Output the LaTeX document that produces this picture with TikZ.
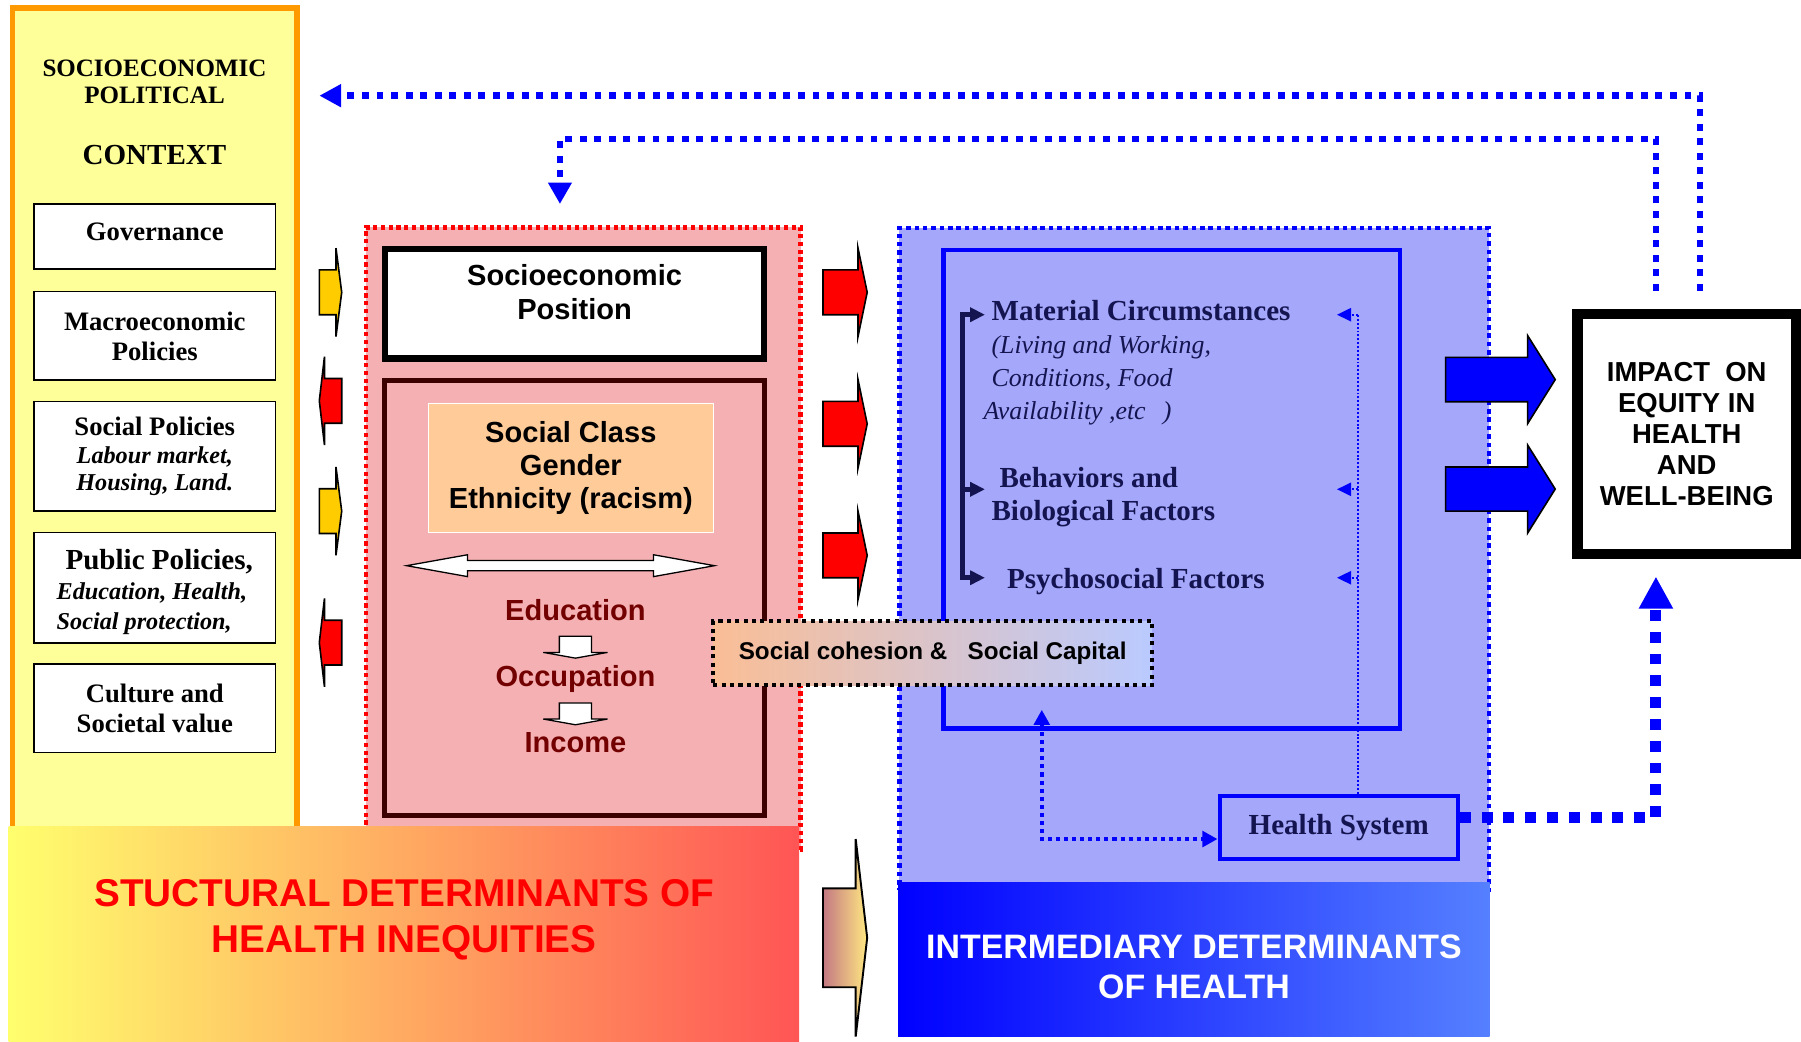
\documentclass[tikz,border=0pt]{standalone}
\usepackage{fontspec}
\setmainfont{Liberation Serif}
\setsansfont{Liberation Sans}
\usetikzlibrary{arrows.meta,fit}

\definecolor{ctxfill}{RGB}{255,255,153}
\definecolor{ctxline}{RGB}{255,153,0}
\definecolor{ctxarrow}{RGB}{255,204,0}
\definecolor{sdhfill}{RGB}{244,176,178}
\definecolor{idhfill}{RGB}{164,167,250}
\definecolor{classfill}{RGB}{255,204,153}
\definecolor{idhink}{RGB}{20,20,80}
\definecolor{eduink}{RGB}{115,0,0}
\definecolor{stratline}{RGB}{60,0,0}

% block arrow: tail x, head base x, tip x, centre y, half body, half head
\newcommand\blockarrow[6]{(#1,#4-#5) -- (#2,#4-#5) -- (#2,#4-#6) -- (#3,#4)
  -- (#2,#4+#6) -- (#2,#4+#5) -- (#1,#4+#5) -- cycle}
% small hollow arrow pointing down: centre x, top y
\newcommand\smalldown[2]{(#1-14,#2) -- (#1+14,#2) -- (#1+14,#2+14) -- (#1+28,#2+14)
  -- (#1,#2+19) -- (#1-28,#2+14) -- (#1-14,#2+14) -- cycle}
\newcommand\polsub[1]{{\fontsize{15}{17}\selectfont\itshape #1}}
% move a text block up (or down) without changing the size of its box
\newcommand\lifted[2]{\raisebox{#1}[\height][\depth]{\begin{tabular}{@{}c@{}}#2\end{tabular}}}

\tikzset{
  boxsize/.style 2 args={minimum width=#1*0.25mm,minimum height=#2*0.25mm},
  ctxbox/.style={draw=ctxline,fill=ctxfill,line width=3.5pt,inner sep=0pt},
  ctxtitle/.style={anchor=base,inner sep=0pt,font=\bfseries\fontsize{15.5}{17}\selectfont},
  polbox/.style={draw,fill=white,line width=0.9pt,inner sep=0pt,align=center,
    font=\bfseries\fontsize{16.5}{18.5}\selectfont},
  sdhzone/.style={draw=red,fill=sdhfill,line width=2.8pt,dash pattern=on 2.6pt off 2.2pt,inner sep=0pt},
  idhzone/.style={draw=blue,fill=idhfill,line width=2.8pt,dash pattern=on 2.8pt off 2.4pt,inner sep=0pt},
  sepbox/.style={draw,fill=white,line width=4pt,inner sep=0pt,align=center,
    font=\sffamily\bfseries\fontsize{18}{21.3}\selectfont},
  stratbox/.style={draw=stratline,line width=3pt,inner sep=0pt},
  classbox/.style={draw=white,fill=classfill,line width=0.6pt,inner sep=0pt,align=center,
    font=\sffamily\bfseries\fontsize{18}{20.6}\selectfont},
  edu/.style={anchor=base,inner sep=0pt,text=eduink,font=\sffamily\bfseries\fontsize{18}{20}\selectfont},
  hollow/.style={draw,fill=white,line width=0.8pt},
  ctxarr/.style={draw,fill=ctxarrow,line width=1pt},
  redarr/.style={draw,fill=red,line width=1pt},
  bluearr/.style={draw,fill=blue,line width=1pt},
  gradarr/.style={draw,line width=1.2pt,left color={rgb,255:red,195;green,120;blue,130},
    middle color={rgb,255:red,255;green,150;blue,130},right color={rgb,255:red,255;green,232;blue,130}},
  idhframe/.style={draw=blue,line width=3pt,inner sep=0pt},
  idhlabel/.style={anchor=base west,inner sep=0pt,text=idhink,font=\bfseries\fontsize{18}{20.5}\selectfont},
  idhsub/.style={anchor=base west,inner sep=0pt,text=idhink,font=\itshape\fontsize{16}{20.5}\selectfont},
  brk/.style={draw=idhink,line width=3pt},
  hsbox/.style={draw=blue,line width=2.5pt,inner sep=0pt,text=idhink,font=\bfseries\fontsize{18}{20}\selectfont},
  hsdot/.style={draw=blue,line width=1.2pt,dash pattern=on 1.2pt off 1.2pt},
  cohbox/.style={draw=black,line width=2.5pt,dash pattern=on 2.5pt off 2.7pt,inner sep=0pt,
    left color={rgb,255:red,250;green,190;blue,150},right color={rgb,255:red,186;green,202;blue,255},
    font=\sffamily\bfseries\fontsize{15}{17}\selectfont},
  cohlink/.style={draw=blue,line width=2.5pt,dash pattern=on 2.5pt off 2.5pt},
  impbox/.style={draw,fill=white,line width=6.2pt,inner sep=0pt,align=center,
    font=\sffamily\bfseries\fontsize{17}{19.2}\selectfont},
  fback/.style={draw=blue,line width=4.2pt,dash pattern=on 4.3pt off 4.7pt},
  hsfeed/.style={draw=blue,line width=6.8pt,dash pattern=on 6.8pt off 6.7pt},
  sdhbanner/.style={inner sep=0pt,left color={rgb,255:red,255;green,255;blue,110},
    middle color={rgb,255:red,252;green,200;blue,110},right color={rgb,255:red,255;green,85;blue,85}},
  sdhtitle/.style={align=center,text=red,font=\sffamily\bfseries\fontsize{24}{28.3}\selectfont},
  idhbanner/.style={inner sep=0pt,left color=blue,right color={rgb,255:red,85;green,128;blue,255}},
  idhtitle/.style={align=center,text=white,font=\sffamily\bfseries\fontsize{21}{24.8}\selectfont}
}

\begin{document}
\begin{tikzpicture}[x=0.25mm,y=-0.25mm]
        \useasboundingbox (0,0) rectangle (1568,907.2);

        % context column
        \node[ctxbox,fit={(10.8,6.9) (258.5,740)}] (ctx) {};
        \node[ctxtitle] (ctxA) at (134.5,66.7) {SOCIOECONOMIC};
        \node[ctxtitle] (ctxB) at (134.5,90.5) {POLITICAL};
        \node[ctxtitle,font=\bfseries\fontsize{18}{20}\selectfont] (ctxC) at (134.5,142.8) {CONTEXT};
        \node[polbox,boxsize={210.5}{56.5}] (gov) at (134.75,206) {\raisebox{2.8pt}[\height][\depth]{Governance}};
        \node[polbox,boxsize={210.5}{77}] (macro) at (134.75,292.5) {Macroeconomic\\Policies};
        \node[polbox,boxsize={210.5}{95.2}] (socpol) at (134.75,397.3)
                {Social Policies\\[-1.2pt]\polsub{Labour market,}\\[-1.2pt]\polsub{Housing, Land.}};
        \node[polbox,boxsize={210.5}{96.3}] (pubpol) at (134.75,511.85)
                {\raisebox{-3.5pt}[\height][\depth]{\begin{tabular}{@{}l@{}}\hspace*{5.5pt}{\fontsize{18}{19}\selectfont Public Policies,}\\
                 \polsub{Education, Health,}\\\polsub{Social protection,}\end{tabular}}};
        \node[polbox,boxsize={210.5}{77}] (culture) at (134.75,616.5) {Culture and\\Societal value};

        % arrows between context and structural zone
        \filldraw[ctxarr] \blockarrow{278}{292.5}{297.5}{254.5}{19.5}{38.5};
        \filldraw[redarr] \blockarrow{297.5}{282.5}{278}{349}{19.5}{38.5};
        \filldraw[ctxarr] \blockarrow{278}{292.5}{297.5}{445}{19.5}{38.5};
        \filldraw[redarr] \blockarrow{297.5}{282.5}{278}{559.5}{19.5}{38.5};

        % structural determinants
        \node[sdhzone,fit={(318.5,198) (697,740)}] (sdh) {};
        \node[sepbox,boxsize={329.7}{95}] (sep) at (500.25,264.5) {\lifted{5pt}{Socioeconomic\\Position}};
        \node[stratbox,fit={(334.7,331.2) (665.8,709.8)}] (strat) {};
        \node[classbox,boxsize={248}{113}] (class) at (497,407.5) {Social Class\\Gender\\Ethnicity (racism)};
        \filldraw[hollow] (354,492.5) -- (407,483) -- (407,488) -- (569,488) -- (569,483) -- (622,492.5)
                -- (569,502) -- (569,497) -- (407,497) -- (407,502) -- cycle;
        \node[edu] (edu) at (501,540) {Education};
        \filldraw[hollow] \smalldown{501}{554};
        \node[edu] (occ) at (501,598) {Occupation};
        \filldraw[hollow] \smalldown{501}{612};
        \node[edu] (inc) at (501,655.5) {Income};

        \foreach \yy in {254.5,369,483.5}
                \filldraw[redarr] \blockarrow{716.5}{747}{755}{\yy}{19.5}{38.5};

        % intermediary determinants
        \node[idhzone,fit={(783,198.5) (1296.5,775)}] (idh) {};
        \node[idhframe,fit={(821.7,217.7) (1218.8,634.3)}] (circ) {};
        \node[idhlabel] (mat) at (863,279) {Material Circumstances};
        \node[idhsub] (matA) at (863,308) {(Living and Working,};
        \node[idhsub] (matB) at (863,336.6) {Conditions, Food};
        \node[idhsub] (matC) at (856,365.6) {Availability ,etc\ \ \,)};
        \node[idhlabel] (beh) at (870,424) {Behaviors and};
        \node[idhlabel] (bio) at (863,453) {Biological Factors};
        \node[idhlabel] (psy) at (876.5,512) {Psychosocial Factors};

        \coordinate (matarr) at (857.5,274);
        \coordinate (beharr) at (857.5,426);
        \coordinate (psyarr) at (857.5,503);
        \draw[brk,{Triangle[length=3.2mm,width=3mm]}-{Triangle[length=3.2mm,width=3mm]}]
                (matarr) -- ++(-19.5,0) |- (psyarr);
        \draw[brk,-{Triangle[length=3.2mm,width=3mm]}] (beharr -| 838,0) -- (beharr);

        \node[hsbox,boxsize={207.5}{55.5}] (hs) at (1165.5,720.5) {Health System};
        \draw[hsdot] (hs.north -| 1182,0) -- (1182,273);
        \foreach \yy in {274,426,503}
                \draw[hsdot,-{Triangle[length=3.1mm,width=2.9mm]}] (1182,\yy) -- (1164,\yy);

        \foreach \yy/\hh in {330.5/19.3,425.8/19.2}
                \filldraw[bluearr] \blockarrow{1258.6}{1330}{1354}{\yy}{\hh}{38.3};

        \node[impbox,boxsize={190.2}{209.2}] (imp) at (1468.5,378)
                {IMPACT\ \ ON\\EQUITY IN\\HEALTH\\AND\\WELL-BEING};

        % banners
        \node[sdhbanner,fit={(7.5,719.7) (695.7,907.5)}] (sdhban) {};
        \node[sdhtitle] (sdhname) at (352,800.5) {STUCTURAL DETERMINANTS OF\\HEALTH INEQUITIES};
        \draw[gradarr] \blockarrow{716.5}{745}{755}{816.5}{43}{86};
        \node[idhbanner,fit={(782,768.5) (1297,902.5)}] (idhban) {};
        \node[idhtitle] (idhname) at (1039.5,841.5) {INTERMEDIARY DETERMINANTS\\OF HEALTH};

        \node[cohbox,boxsize={382}{55.5}] (coh) at (812,568.75) {Social cohesion \&\ \ \ Social Capital};

        % links
        \coordinate (cohtip) at (907,618);
        \draw[cohlink,{Triangle[length=3.3mm,width=3.4mm]}-{Triangle[length=3.3mm,width=3.4mm]}]
                (cohtip) |- (hs.west |- 0,730.5);
        \draw[hsfeed,-{Triangle[length=7mm,width=7mm]}]
                ([yshift=2.25mm]hs.east) -| ([xshift=-6.7mm,yshift=-3.75mm]imp.south);

        % feedback to the context and to the position
        \coordinate (fbouttip) at (278,83.3);
        \coordinate (fbinbend) at (487.5,121);
        \coordinate (fbintip) at (487.5,177.6);
        \draw[fback,-{Triangle[length=4.75mm,width=4.75mm]}]
                ([xshift=2.875mm,yshift=4mm]imp.north) |- (fbouttip);
        \draw[fback,-{Triangle[length=4.65mm,width=4.9mm]}]
                ([xshift=-6.7mm,yshift=4mm]imp.north) |- (fbinbend) -- (fbintip);
\end{tikzpicture}
\end{document}
